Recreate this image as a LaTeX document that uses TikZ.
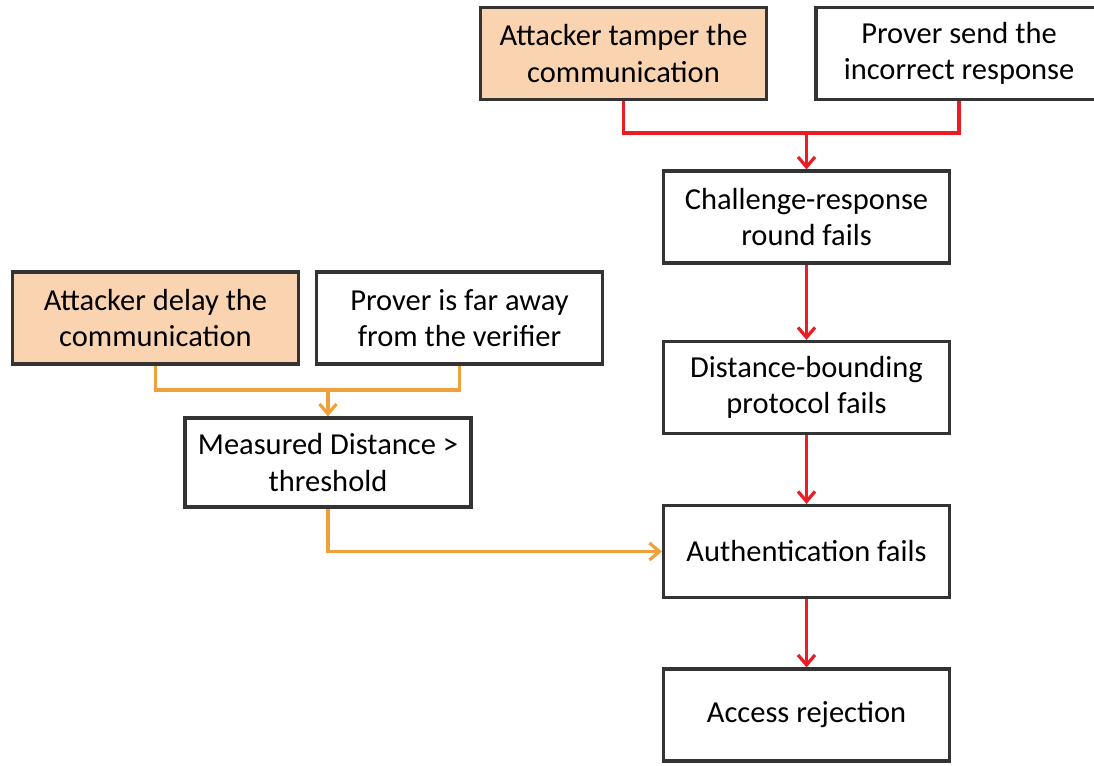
\documentclass[tikz,border=0pt]{standalone}
\usepackage{fontspec}
\setmainfont{Carlito}
\usetikzlibrary{arrows.meta,shadows}
\definecolor{peach}{HTML}{FAD4B0}
\definecolor{boxline}{HTML}{333333}
\definecolor{failred}{HTML}{EC1C24}
\definecolor{delayorange}{HTML}{F0A03A}
\begin{document}
\begin{tikzpicture}[x=1pt,y=-1pt,
  box/.style={draw=boxline, fill=white, line width=3.2pt, inner sep=0pt,
    align=center, font=\fontsize{30.5}{36.5}\selectfont,
    drop shadow={shadow xshift=0.6pt, shadow yshift=-1.8pt, opacity=0.35, fill=black!60}},
  wide/.style={minimum width=286pt, minimum height=92pt},
  attack/.style={fill=peach},
  redflow/.style={draw=failred, line width=3.2pt,
    -{Straight Barb[length=10pt,width=17pt,line width=3.2pt]}},
  redline/.style={draw=failred, line width=3.2pt},
  orangeflow/.style={draw=delayorange, line width=3.2pt,
    -{Straight Barb[length=10pt,width=17pt,line width=3.2pt]}},
  orangeline/.style={draw=delayorange, line width=3.2pt}]
\useasboundingbox (0,0) rectangle (1094,765);

% right-hand column: failure chain
\node[box, wide, attack] (tamper) at (623.5,53.5) {Attacker tamper the\\communication};
\node[box, wide] (wrong) at (959,53.5) {Prover send the\\incorrect response};
\node[box, wide] (chal) at (806.5,217) {Challenge-response\\round fails};
\node[box, wide] (dbp) at (806.5,387.5) {Distance-bounding\\protocol fails};
\node[box, wide] (auth) at (806.5,551.5) {Authentication fails};
\node[box, wide] (deny) at (806.5,715) {Access rejection};

% left-hand branch: distance check
\node[box, wide, attack] (delay) at (155.5,318) {Attacker delay the\\communication};
\node[box, wide] (far) at (459.5,318) {Prover is far away\\from the verifier};
\node[box, wide, minimum height=89pt] (meas) at (328,462.5) {Measured Distance >\\threshold};

% red joins and arrows
\coordinate (rj) at (806.5,133);
\draw[redline] (tamper.south) |- (rj);
\draw[redline] (wrong.south) |- (rj);
\draw[redflow] (rj) -- (chal.north);
\draw[redflow] (chal.south) -- (dbp.north);
\draw[redflow] (dbp.south) -- (auth.north);
\draw[redflow] (auth.south) -- (deny.north);

% orange joins and arrows
\coordinate (oj) at (328,390);
\draw[orangeline] (delay.south) |- (oj);
\draw[orangeline] (far.south) |- (oj);
\draw[orangeflow] (oj) -- (meas.north);
\draw[orangeflow] (meas.south) |- (auth.west);
\end{tikzpicture}
\end{document}
